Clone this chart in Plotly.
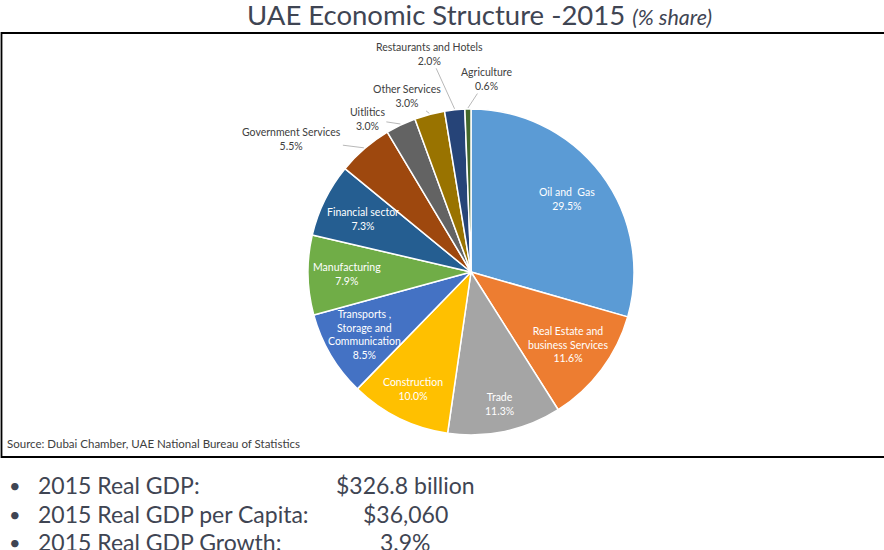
import math
import plotly.graph_objects as go

# ---- data ----
sectors = ["Oil and  Gas", "Real Estate and<br>business Services", "Trade", "Construction",
           "Transports ,<br>Storage and<br>Communication", "Manufacturing", "Financial sector",
           "Government Services", "Uitlitics", "Other Services", "Restaurants and Hotels", "Agriculture"]
shares = [29.5, 11.6, 11.3, 10.0, 8.5, 7.9, 7.3, 5.5, 3.0, 3.0, 2.0, 0.6]
colors = ["#5B9BD5", "#ED7D31", "#A5A5A5", "#FFC000", "#4472C4", "#70AD47", "#255E91",
          "#9E480E", "#636363", "#997300", "#264478", "#43682B"]
outside = [False] * 7 + [True] * 5
# leader-line text offsets (px) for outside labels
offsets = {7: (-72, -9), 8: (-33, -5), 9: (-22, -17), 10: (-25, -55), 11: (19, -29)}
inside_r = [0.74, 0.74, 0.83, 0.80, 0.76, 0.76, 0.74]

W, H = 884, 550
CX, CY, R = 471, 272, 163
FONT = "Lato"
TXT = "#3F4553"

fig = go.Figure()
fig.add_trace(go.Pie(
    labels=sectors, values=shares, sort=False, direction="clockwise", rotation=0,
    marker=dict(colors=colors, line=dict(color="white", width=1.5)),
    textinfo="none", hoverinfo="label+value", showlegend=False,
    domain=dict(x=[(CX - R) / W, (CX + R) / W], y=[1 - (CY + R) / H, 1 - (CY - R) / H]),
))

def px(x, y):
    return x / W, 1 - y / H

annotations = []
total = sum(shares)
cum = 0.0
for i, (lab, v) in enumerate(zip(sectors, shares)):
    mid = (cum + v / 2) / total * 2 * math.pi
    cum += v
    s, c = math.sin(mid), math.cos(mid)
    txt = f"{lab}<br>{v:.1f}%"
    if not outside[i]:
        x, y = px(CX + inside_r[i] * R * s, CY - inside_r[i] * R * c)
        annotations.append(dict(x=x, y=y, xref="paper", yref="paper", text=txt, showarrow=False,
                                xanchor="center", yanchor="middle",
                                font=dict(family=FONT, size=10.5, color="white"), align="center"))
    else:
        x, y = px(CX + (R + 1) * s, CY - (R + 1) * c)
        ax, ay = offsets[i]
        annotations.append(dict(x=x, y=y, xref="paper", yref="paper", text=txt, showarrow=True,
                                arrowhead=0, arrowwidth=0.8, arrowcolor="#A6A6A6", ax=ax, ay=ay,
                                font=dict(family=FONT, size=10.5, color="#404040"), align="center"))

# title
annotations.append(dict(x=480 / W, y=1 - 14 / H, xref="paper", yref="paper", showarrow=False,
                        xanchor="center", yanchor="middle",
                        text="UAE Economic Structure -2015 <i><span style='font-size:21.5px'>(% share)</span></i>",
                        font=dict(family=FONT, size=27.5, color=TXT)))
# source
annotations.append(dict(x=5 / W, y=1 - 443 / H, xref="paper", yref="paper", showarrow=False,
                        xanchor="left", yanchor="middle",
                        text="Source: Dubai Chamber, UAE National Bureau of Statistics",
                        font=dict(family=FONT, size=11.5, color="#404040")))

bullet_labels = ["2015 Real GDP:", "2015 Real GDP per Capita:", "2015 Real GDP Growth:"]
bullet_values = ["$326.8 billion", "$36,060", "3.9%"]
rows_y = [485, 514, 542]
for lab, val, yy in zip(bullet_labels, bullet_values, rows_y):
    annotations.append(dict(x=7 / W, y=1 - yy / H, xref="paper", yref="paper", showarrow=False,
                            xanchor="left", yanchor="middle", text="•",
                            font=dict(family=FONT, size=20, color=TXT)))
    annotations.append(dict(x=36 / W, y=1 - yy / H, xref="paper", yref="paper", showarrow=False,
                            xanchor="left", yanchor="middle", text=lab,
                            font=dict(family=FONT, size=23, color=TXT)))
    annotations.append(dict(x=405 / W, y=1 - yy / H, xref="paper", yref="paper", showarrow=False,
                            xanchor="center", yanchor="middle", text=val,
                            font=dict(family=FONT, size=23, color=TXT)))

fig.update_layout(
    width=W, height=H, margin=dict(l=0, r=0, t=0, b=0),
    paper_bgcolor="white", plot_bgcolor="white",
    annotations=annotations,
    shapes=[dict(type="rect", xref="paper", yref="paper", x0=1.5 / W, x1=1.01,
                 y0=1 - 457 / H, y1=1 - 33 / H, line=dict(color="black", width=1.8))],
)

fig.write_html("out.html", config={"displayModeBar": False},
               post_script="document.body.style.margin='0';document.body.style.overflow='hidden';")
